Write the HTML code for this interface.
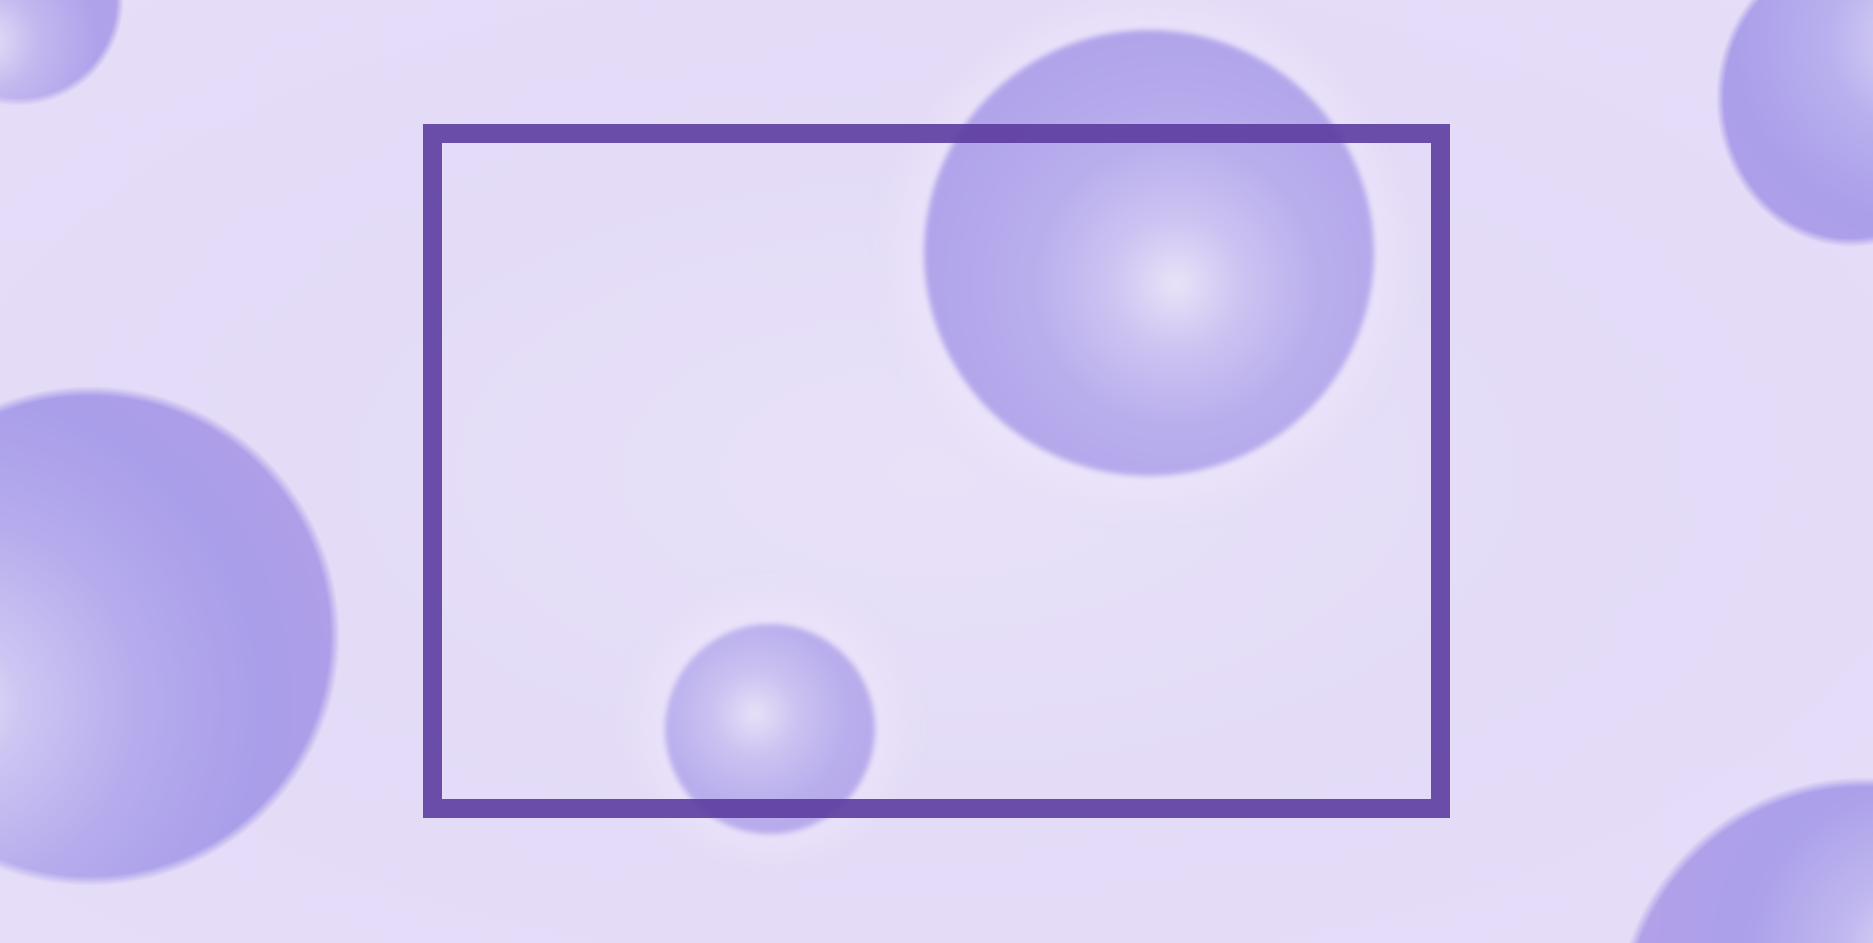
<!DOCTYPE html>
<html>
<head>
<meta charset="utf-8">
<style>
  html, body { margin: 0; padding: 0; width: 1873px; height: 943px; overflow: hidden; }
  #stage {
    position: relative; width: 1873px; height: 943px; overflow: hidden;
    background: radial-gradient(ellipse at 50% 50%, #e8e1f8 0%, #e3dbf7 60%, #e6def8 100%);
    font-family: "Liberation Sans", sans-serif;
  }
  .edge { position: absolute; }
  .sphere {
    position: absolute; border-radius: 50%;
    filter: blur(3px);
    box-shadow: 0 0 40px 20px rgba(240,232,252,0.6);
  }
  .frame {
    position: absolute; left: 423px; top: 124px; width: 989px; height: 656px;
    border: 19px solid rgba(92,60,160,0.9);
  }
</style>
</head>
<body>
<div id="stage">
  <div class="edge"
       style="left:0; top:0; width:140px; height:120px;
       background: radial-gradient(circle 200px at -13px 41px, #e6e0f8 0, #c4b8ef 50px, #b0a2ea 110px, #b59ee8 200px);
       -webkit-mask-image: radial-gradient(circle 106px at 18px 0px, #000 98px, transparent 106px);
       mask-image: radial-gradient(circle 106px at 18px 0px, #000 98px, transparent 106px);"></div>
  <div class="sphere"
       style="left:924px; top:30px; width:450px; height:446px;
       background: radial-gradient(circle at 56% 57%, #e8e3f8 0%, #cdc4f2 18%, #b9aeed 40%, #b1a4ea 70%, #b8a0e8 100%);"></div>
  <div class="edge"
       style="left:1690px; top:0; width:183px; height:260px;
       background: radial-gradient(circle 300px at 226px 40px, #dcd6f7 0, #b8b0ee 90px, #ab9fea 180px, #b59ee8 300px);
       -webkit-mask-image: radial-gradient(ellipse 135px 149px at 161px 98px, #000 94%, transparent 100%);
       mask-image: radial-gradient(ellipse 135px 149px at 161px 98px, #000 94%, transparent 100%);"></div>
  <div class="edge"
       style="left:0; top:370px; width:370px; height:573px;
       background: radial-gradient(circle 480px at -47px 334px, #e8e3f8 0, #cdc5f2 70px, #b5abed 190px, #a99ee9 310px, #b79fe8 480px);
       -webkit-mask-image: radial-gradient(circle 250px at 90px 266px, #000 240px, transparent 250px);
       mask-image: radial-gradient(circle 250px at 90px 266px, #000 240px, transparent 250px);"></div>
  <div class="sphere"
       style="left:665px; top:624px; width:210px; height:210px;
       background: radial-gradient(circle at 43% 43%, #e6e1f8 0%, #cbc2f1 25%, #b9aeed 55%, #b6a3e8 100%);"></div>
  <div class="edge"
       style="left:1540px; top:760px; width:333px; height:183px;
       background: radial-gradient(circle 480px at 373px 193px, #e0dbf8 0, #c0b8ef 70px, #aba0ea 170px, #b7a0e8 330px);
       -webkit-mask-image: radial-gradient(circle 250px at 324px 267px, #000 240px, transparent 250px);
       mask-image: radial-gradient(circle 250px at 324px 267px, #000 240px, transparent 250px);"></div>
  <div class="frame"></div>
</div>
</body>
</html>
